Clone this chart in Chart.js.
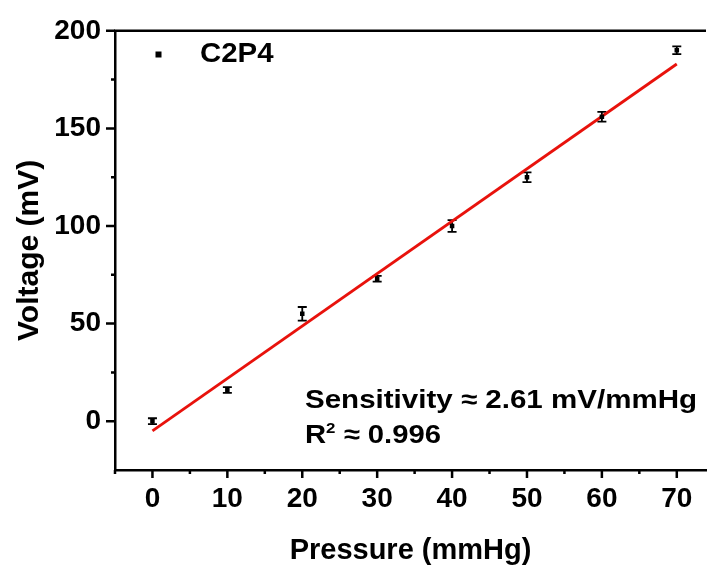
<!DOCTYPE html>
<html><head><meta charset="utf-8">
<script src="https://cdn.jsdelivr.net/npm/chart.js@4/dist/chart.umd.min.js"></script>
<style>html,body{margin:0;padding:0;background:#fff}#wrap{width:710px;height:568px}</style>
</head><body><div id="wrap"><canvas id="c" width="710" height="568"></canvas></div>
<script>
const pressure = [0, 10, 20, 30, 40, 50, 60, 70];
const voltage = [0, 16, 55, 73, 100, 125, 156, 190];
const voltageErr = [1.5, 1.5, 3.5, 1.5, 3, 2.5, 2.5, 2];
const fitX = [0, 70];
const fitY = [-5, 183];
const xMajorTicks = [0, 10, 20, 30, 40, 50, 60, 70];
const xMinorTicks = [-5, 5, 15, 25, 35, 45, 55, 65];
const yMajorTicks = [0, 50, 100, 150, 200];
const yMinorTicks = [25, 75, 125, 175];
const seriesName = 'C2P4';
const sensText = 'Sensitivity \u2248 2.61 mV/mmHg';
const r2Value = ' \u2248 0.996';

const FONT = '"Liberation Sans", Arial, sans-serif';

function stretchedText(ctx, parts, x, y, targetWidth) {
  // parts: [{t, size, dy}]
  let w = 0;
  parts.forEach(p => { ctx.font = 'bold ' + p.size + 'px ' + FONT; p.w = ctx.measureText(p.t).width; w += p.w; });
  const k = targetWidth / w;
  ctx.save();
  ctx.translate(x, y);
  ctx.scale(k, 1);
  let cx = 0;
  parts.forEach(p => { ctx.font = 'bold ' + p.size + 'px ' + FONT; ctx.fillText(p.t, cx, p.dy || 0); cx += p.w; });
  ctx.restore();
}

const decor = {
  id: 'decor',
  beforeDatasetsDraw(chart) {
    const ctx = chart.ctx, xs = chart.scales.x, ys = chart.scales.y;
    ctx.save();
    ctx.strokeStyle = '#000'; ctx.lineWidth = 1.8;
    pressure.forEach((p, i) => {
      const px = xs.getPixelForValue(p);
      const t = ys.getPixelForValue(voltage[i] + voltageErr[i]);
      const b = ys.getPixelForValue(voltage[i] - voltageErr[i]);
      ctx.beginPath();
      ctx.moveTo(px, t); ctx.lineTo(px, b);
      ctx.moveTo(px - 4.5, t); ctx.lineTo(px + 4.5, t);
      ctx.moveTo(px - 4.5, b); ctx.lineTo(px + 4.5, b);
      ctx.stroke();
    });
    ctx.restore();
  },
  afterDraw(chart) {
    const ctx = chart.ctx, xs = chart.scales.x, ys = chart.scales.y, a = chart.chartArea;
    ctx.save();
    ctx.strokeStyle = '#000'; ctx.lineWidth = 2.5;
    ctx.beginPath(); ctx.moveTo(a.left - 1, a.top); ctx.lineTo(a.right, a.top); ctx.stroke();
    ctx.beginPath();
    xMajorTicks.forEach(v => { const p = xs.getPixelForValue(v); ctx.moveTo(p, a.bottom); ctx.lineTo(p, a.bottom + 8); });
    xMinorTicks.forEach(v => { const p = xs.getPixelForValue(v); ctx.moveTo(p, a.bottom); ctx.lineTo(p, a.bottom + 4); });
    yMajorTicks.forEach(v => { const p = ys.getPixelForValue(v); ctx.moveTo(a.left, p); ctx.lineTo(a.left - 9, p); });
    yMinorTicks.forEach(v => { const p = ys.getPixelForValue(v); ctx.moveTo(a.left, p); ctx.lineTo(a.left - 4, p); });
    ctx.stroke();
    // legend
    ctx.fillStyle = '#000';
    ctx.fillRect(155.5, 51.5, 6, 6);
    ctx.textBaseline = 'alphabetic';
    stretchedText(ctx, [{ t: seriesName, size: 28 }], 200, 62.3, 73.5);
    // annotations
    stretchedText(ctx, [{ t: sensText, size: 26 }], 305, 407.7, 392);
    stretchedText(ctx, [{ t: 'R', size: 26 }, { t: '2', size: 15, dy: -10 }, { t: r2Value, size: 26 }], 305, 443.3, 136);
    ctx.restore();
  }
};

new Chart(document.getElementById('c'), {
  type: 'scatter',
  data: {
    datasets: [
      {
        label: seriesName,
        data: pressure.map((p, i) => ({ x: p, y: voltage[i] })),
        pointStyle: 'rect', pointRadius: 3.2, backgroundColor: '#000', borderColor: '#000', borderWidth: 0
      },
      {
        label: 'fit', type: 'line',
        data: fitX.map((p, i) => ({ x: p, y: fitY[i] })),
        borderColor: '#e8120c', borderWidth: 2.8, pointRadius: 0, showLine: true, fill: false
      }
    ]
  },
  options: {
    responsive: false, animation: false,
    layout: { padding: { top: 28, right: 0, left: 0, bottom: 0 } },
    plugins: { legend: { display: false }, tooltip: { enabled: false } },
    scales: {
      x: {
        type: 'linear', min: -5, max: 73.9,
        grid: { display: false, drawTicks: false },
        border: { display: true, color: '#000', width: 2.5 },
        afterBuildTicks: s => { s.ticks = xMajorTicks.map(v => ({ value: v })); },
        afterFit: s => { s.height = 98; },
        ticks: { color: '#000', padding: 12, maxRotation: 0, font: { family: FONT, weight: 'bold', size: 28 } },
        title: { display: true, text: 'Pressure (mmHg)', color: '#000', padding: { top: 0, bottom: 0 }, font: { family: FONT, weight: 'bold', size: 29 } }
      },
      y: {
        type: 'linear', min: -25, max: 200,
        grid: { display: false, drawTicks: false },
        border: { display: true, color: '#000', width: 2.5 },
        afterBuildTicks: s => { s.ticks = yMajorTicks.map(v => ({ value: v })); },
        afterFit: s => { s.width = 115; },
        ticks: { color: '#000', padding: 14, font: { family: FONT, weight: 'bold', size: 28 } },
        title: { display: true, text: 'Voltage (mV)', color: '#000', padding: { top: 12, bottom: 0 }, font: { family: FONT, weight: 'bold', size: 30 } }
      }
    }
  },
  plugins: [decor]
});
</script></body></html>
